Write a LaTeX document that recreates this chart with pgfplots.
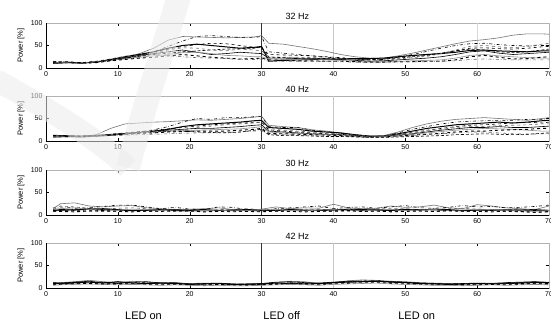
\documentclass[border=0pt]{standalone}
\usepackage{pgfplots}
\pgfplotsset{compat=1.18}
\usepackage{pgfplotstable}
\usepackage{fontspec}
\setmainfont{Liberation Sans}

\pgfplotstableread{
x s1 s2 s3 s4 s5 s6 s7 s8 s9 s10
1 12 13 11 14 12 10 13 12 11 14
3 13 12 12 13 11 12 12 14 12 13
5 11 12 11 12 10 11 12 11 10 12
7 13 14 13 15 12 14 13 12 14 13
9 18 17 19 20 16 18 17 16 19 17
11 24 22 25 26 21 23 20 19 24 22
13 32 28 30 31 27 28 24 22 28 26
15 44 36 36 36 33 32 27 24 30 30
17 62 48 44 42 40 36 30 27 27 33
19 70 60 50 48 45 40 34 30 25 36
21 69 70 53 52 44 35 35 27 23 38
23 68 72 50 55 40 30 32 24 22 40
25 67 70 47 54 38 32 28 22 21 42
27 68 68 44 50 42 35 27 20 19 43
29 69 68 46 46 40 33 25 21 19 44
30 72 70 48 45 38 32 25 22 20 46
31 55 36 15 30 25 22 20 18 15 24
33 53 33 17 29 24 22 19 17 15 23
35 48 30 18 28 24 21 19 16 15 22
37 43 27 19 27 23 21 18 16 14 22
39 37 24 20 25 22 20 18 15 15 21
41 30 22 20 23 20 19 17 15 14 21
43 25 20 21 20 18 17 15 14 13 20
45 22 18 21 18 16 15 13 13 12 19
47 22 19 22 20 17 16 14 13 13 20
49 27 24 25 24 20 18 15 14 13 22
51 33 30 28 27 23 20 16 14 14 25
53 40 37 30 30 26 22 17 15 14 28
55 47 44 32 33 32 25 18 15 15 33
57 54 50 35 38 40 30 22 18 16 38
59 60 54 39 44 48 36 28 25 19 42
61 63 55 40 45 50 38 30 28 20 40
63 67 52 38 43 47 33 27 24 19 36
65 73 50 37 42 45 30 25 20 18 34
67 76 49 36 44 48 32 23 21 18 36
69 76 50 38 47 53 34 22 24 18 40
70 75 50 38 48 55 35 22 25 18 42
}\dataA

\pgfplotstableread{
x s1 s2 s3 s4 s5 s6 s7 s8 s9 s10
1 10 12 9 11 8 13 10 12 9 11
3 11 10 10 12 9 12 11 10 10 12
5 10 11 9 10 10 11 10 11 9 10
7 14 12 11 12 11 13 12 11 10 12
9 28 14 13 15 12 15 14 13 12 14
11 38 17 16 18 14 17 16 15 13 16
13 40 20 19 21 16 19 18 17 14 18
15 42 25 22 24 18 22 20 18 15 20
17 43 32 26 27 21 24 22 20 16 22
19 45 42 32 30 25 26 23 21 17 22
21 47 50 36 33 30 28 24 22 18 20
23 46 48 38 36 33 28 25 22 18 19
25 48 52 40 38 36 30 26 22 19 18
27 50 52 42 40 38 32 27 24 20 20
29 53 54 45 41 40 35 30 26 22 24
30 55 55 46 42 42 36 32 28 23 26
31 35 32 30 25 28 22 20 17 15 14
33 32 30 28 22 24 20 18 16 14 12
35 30 30 26 20 22 18 17 15 13 12
37 25 24 22 18 20 16 15 14 12 11
39 22 20 20 16 18 15 14 13 11 10
41 18 17 18 15 16 14 13 12 11 10
43 14 13 14 12 13 12 11 10 10 9
45 11 10 11 10 11 10 9 9 8 8
47 12 11 11 10 11 10 10 9 9 8
49 20 18 16 14 14 13 12 11 10 9
51 30 26 22 19 18 16 15 13 12 10
53 38 32 28 24 22 20 18 15 14 11
55 44 38 32 28 26 24 21 17 16 12
57 48 42 36 32 30 27 24 20 18 14
59 50 44 38 35 32 30 26 22 20 15
61 52 45 40 36 32 30 28 22 20 16
63 50 46 42 38 34 32 27 24 18 15
65 48 46 40 40 35 30 26 25 16 14
67 46 48 42 42 36 30 24 26 15 15
69 50 48 45 40 38 32 22 28 16 17
70 52 50 46 42 38 33 22 28 16 18
}\dataB

\pgfplotstableread{
x s1 s2 s3 s4 s5 s6 s7 s8
1 14 12 10 8 16 11 13 9
2 25 18 12 9 20 10 14 8
4 27 15 11 10 18 12 16 7
6 20 16 13 9 14 14 12 9
8 18 19 14 8 13 12 10 10
10 20 22 12 9 15 11 11 8
12 21 22 10 10 16 9 13 7
14 16 18 11 8 14 10 12 9
16 14 14 12 9 12 11 10 8
18 12 17 10 8 13 12 9 10
20 13 13 11 9 12 10 8 9
22 14 12 12 10 10 9 10 7
24 16 18 10 8 12 10 11 8
26 12 17 11 7 13 11 9 9
28 11 12 12 8 14 10 10 8
30 13 10 11 9 12 9 12 7
32 18 14 10 8 10 11 13 9
34 14 16 12 9 11 12 10 8
36 16 18 11 10 13 10 9 7
38 15 20 10 9 12 11 11 8
40 24 14 11 8 11 13 12 9
42 16 17 13 9 12 11 10 10
44 14 18 12 8 14 10 9 8
46 15 15 11 9 13 12 11 9
48 20 18 10 8 15 11 12 7
50 17 21 12 10 14 13 10 8
52 18 16 11 9 12 12 11 9
54 22 15 13 8 13 11 12 8
56 16 17 12 9 14 10 10 10
58 14 21 10 8 15 9 11 9
60 23 18 11 9 13 11 13 8
62 20 19 12 10 12 10 12 7
64 16 16 10 8 11 12 10 9
66 14 17 11 7 12 11 9 8
68 12 19 12 6 13 10 8 6
70 20 22 10 8 11 9 10 7
}\dataC

\pgfplotstableread{
x s1 s2 s3 s4 s5 s6 s7 s8
1 10 8 11 7 9 12 6 10
2 12 9 10 8 10 11 7 9
4 14 11 12 9 10 13 8 11
6 17 12 13 10 11 15 9 10
8 14 13 11 9 10 12 8 9
10 12 11 14 8 9 10 7 10
12 15 12 11 9 10 13 8 11
14 13 12 10 8 9 14 7 10
16 12 10 11 7 9 11 6 9
18 11 9 10 8 8 12 7 9
20 10 9 8 7 8 9 6 8
22 11 8 9 6 8 10 5 9
24 10 9 10 7 9 11 6 8
26 9 8 8 6 7 9 5 8
28 8 7 9 6 7 8 5 7
30 9 8 9 7 8 10 6 8
32 12 10 11 8 9 13 7 9
34 15 12 10 9 10 14 8 11
36 14 11 9 8 9 12 7 10
38 10 9 10 7 8 11 6 9
40 12 11 12 9 10 13 8 11
42 16 14 13 10 12 15 9 13
44 18 16 14 12 13 15 10 15
46 17 16 15 12 14 16 11 14
48 15 14 13 10 12 14 9 13
50 14 12 12 9 11 13 8 11
52 12 11 10 8 9 11 7 10
54 11 10 9 7 8 10 6 9
56 10 9 8 7 8 9 6 8
58 9 8 9 6 7 10 5 8
60 10 9 10 7 8 11 6 9
62 11 10 9 8 9 10 7 8
64 10 11 10 7 9 12 6 9
66 12 12 11 8 10 13 7 10
68 14 13 12 9 10 14 8 11
70 13 11 12 8 9 12 7 10
}\dataD

\pgfplotscreateplotcyclelist{mylist}{
{black!55, solid, line width=0.6pt},
{black, dashdotted, line width=0.6pt},
{black, line width=1pt},
{black, dashed, line width=0.6pt},
{black!60, dashed, line width=0.6pt},
{black, solid, line width=0.6pt},
{black!45, solid, line width=0.6pt},
{black, dashed, line width=0.9pt},
{black!60, dashdotted, line width=0.6pt},
{black, densely dashed, line width=0.6pt}
}

\pgfplotsset{
  panel/.style={
    anchor=south west,
    width=503pt, height=45pt, scale only axis,
    xmin=0, xmax=70, ymin=0, ymax=100,
    xtick={0,10,...,70}, ytick={0,50,100},
    tick align=inside, major tick length=3pt,
    tick style={black, line width=0.4pt},
    axis line style={gray!60},
    ticklabel style={font=\fontsize{7}{8}\selectfont},
    /pgf/number format/assume math mode=true,
    ylabel={Power [\%]},
    every axis y label/.style={at={(axis description cs:-0.05,0.5)}, rotate=90, anchor=center, font=\fontsize{7.5}{8}\selectfont},
    every axis title/.style={at={(0.5,1)}, anchor=south, font=\fontsize{9}{10}\selectfont},
    cycle list name=mylist,
  }
}

\begin{document}
\begin{tikzpicture}
\useasboundingbox (-46pt,-254pt) rectangle (505pt,68pt);

\begin{axis}[panel, at={(0pt,0pt)}, title={32 Hz}]
\draw[gray!45] (axis cs:40,0) -- (axis cs:40,100);
\draw[gray!30] (axis cs:60,0) -- (axis cs:60,100);
\draw[black!80, line width=0.8pt] (axis cs:30,0) -- (axis cs:30,100);
\foreach \s in {s1,s2,s3,s4,s5,s6,s7,s8,s9,s10}{
  \addplot table[x=x, y=\s] {\dataA};
}
\draw[black] (rel axis cs:0,1) -- (rel axis cs:0,0) -- (rel axis cs:1,0);
\end{axis}

\begin{axis}[panel, at={(0pt,-73pt)}, title={40 Hz}]
\draw[gray!45] (axis cs:40,0) -- (axis cs:40,100);
\draw[black!80, line width=0.8pt] (axis cs:30,0) -- (axis cs:30,100);
\foreach \s in {s1,s2,s3,s4,s5,s6,s7,s8,s9,s10}{
  \addplot table[x=x, y=\s] {\dataB};
}
\draw[black] (rel axis cs:0,1) -- (rel axis cs:0,0) -- (rel axis cs:1,0);
\end{axis}

\begin{axis}[panel, at={(0pt,-147pt)}, title={30 Hz}]
\draw[gray!45] (axis cs:40,0) -- (axis cs:40,100);
\draw[black!80, line width=0.8pt] (axis cs:30,0) -- (axis cs:30,100);
\foreach \s in {s1,s2,s3,s4,s5,s6,s7,s8}{
  \addplot table[x=x, y=\s] {\dataC};
}
\draw[black] (rel axis cs:0,1) -- (rel axis cs:0,0) -- (rel axis cs:1,0);
\end{axis}

\begin{axis}[panel, at={(0pt,-220pt)}, title={42 Hz}]
\draw[gray!45] (axis cs:40,0) -- (axis cs:40,100);
\draw[black!80, line width=0.8pt] (axis cs:30,0) -- (axis cs:30,100);
\foreach \s in {s1,s2,s3,s4,s5,s6,s7,s8}{
  \addplot table[x=x, y=\s] {\dataD};
}
\draw[black] (rel axis cs:0,1) -- (rel axis cs:0,0) -- (rel axis cs:1,0);
\end{axis}

\node[font=\fontsize{11}{12}\selectfont] at (97.5pt,-248pt) {LED on};
\node[font=\fontsize{11}{12}\selectfont] at (235.7pt,-248pt) {LED off};
\node[font=\fontsize{11}{12}\selectfont] at (370.7pt,-248pt) {LED on};

\draw[line width=24pt, black!8, opacity=0.55, line cap=butt]
  (134pt,75pt) .. controls (114pt,8pt) and (94pt,-52pt) .. (82pt,-100pt);
\draw[line width=22pt, black!8, opacity=0.55, line cap=butt]
  (-50pt,-12pt) .. controls (4pt,-42pt) and (54pt,-72pt) .. (82pt,-100pt);
\end{tikzpicture}
\end{document}
